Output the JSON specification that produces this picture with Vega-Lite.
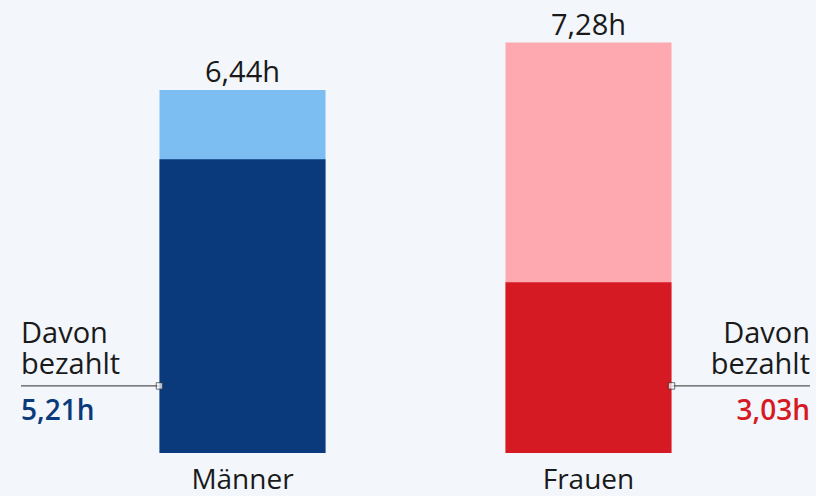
{
  "$schema": "https://vega.github.io/schema/vega-lite/v6.json",
  "width": 789,
  "height": 451,
  "autosize": {"type": "none"},
  "padding": {"left": 21, "right": 6, "top": 2, "bottom": 43},
  "background": "#f3f6fa",
  "config": {
    "view": {"stroke": null},
    "font": "Open Sans",
    "text": {"font": "Open Sans"}
  },
  "data": {
    "values": [
      {"g": "Männer", "gesamt": 6.44, "bezahlt": 5.21},
      {"g": "Frauen", "gesamt": 7.28, "bezahlt": 3.03}
    ]
  },
  "transform": [
    {"calculate": "replace(format(datum.gesamt,'.2f'),'.',',') + 'h'", "as": "gesamtLabel"},
    {"calculate": "replace(format(datum.bezahlt,'.2f'),'.',',') + 'h'", "as": "bezahltLabel"}
  ],
  "encoding": {
    "x": {
      "field": "g",
      "type": "nominal",
      "sort": ["Männer", "Frauen"],
      "scale": {"paddingInner": 0.5202, "paddingOuter": 0.4003},
      "axis": {
        "title": null,
        "domain": false,
        "ticks": false,
        "labelAngle": 0,
        "labelFontSize": 28,
        "labelColor": "#1a1a1a",
        "labelFont": "Open Sans",
        "labelBaseline": "alphabetic",
        "labelPadding": 35
      }
    }
  },
  "layer": [
    {
      "mark": {"type": "bar"},
      "encoding": {
        "y": {"field": "gesamt", "type": "quantitative", "scale": {"domain": [0, 8], "nice": false}, "axis": null},
        "color": {"field": "g", "type": "nominal", "scale": {"domain": ["Männer", "Frauen"], "range": ["#7dbef2", "#fea8b0"]}, "legend": null}
      }
    },
    {
      "mark": {"type": "bar"},
      "encoding": {
        "y": {"field": "bezahlt", "type": "quantitative"},
        "color": {"field": "g", "type": "nominal", "scale": {"domain": ["Männer", "Frauen"], "range": ["#0a397c", "#d61a23"]}, "legend": null}
      }
    },
    {
      "mark": {"type": "text", "fontSize": 29, "baseline": "alphabetic", "dy": -8, "color": "#1a1a1a"},
      "encoding": {
        "y": {"field": "gesamt", "type": "quantitative"},
        "text": {"field": "gesamtLabel"}
      }
    },
    {
      "transform": [{"filter": "datum.g === 'Männer'"}],
      "layer": [
        {
          "mark": {"type": "rule", "color": "#555555", "strokeWidth": 1.2},
          "encoding": {
            "x": {"field": "g", "type": "nominal", "bandPosition": 0},
            "x2": {"value": 0},
            "y": {"datum": 1.19}
          }
        },
        {
          "mark": {"type": "point", "shape": "square", "size": 42, "filled": true, "color": "white", "stroke": "#333333", "strokeWidth": 1},
          "encoding": {
            "x": {"field": "g", "type": "nominal", "bandPosition": 0},
            "y": {"datum": 1.19}
          }
        },
        {
          "mark": {"type": "text", "fontSize": 29, "align": "left", "baseline": "alphabetic", "dy": -43, "lineHeight": 31, "color": "#1a1a1a", "text": ["Davon", "bezahlt"]},
          "encoding": {
            "x": {"value": 0},
            "y": {"datum": 1.19}
          }
        },
        {
          "mark": {"type": "text", "fontSize": 28, "fontWeight": 600, "align": "left", "baseline": "alphabetic", "dy": 34, "color": "#0a397c"},
          "encoding": {
            "x": {"value": 0},
            "y": {"datum": 1.19},
            "text": {"field": "bezahltLabel"}
          }
        }
      ]
    },
    {
      "transform": [{"filter": "datum.g === 'Frauen'"}],
      "layer": [
        {
          "mark": {"type": "rule", "color": "#555555", "strokeWidth": 1.2},
          "encoding": {
            "x": {"field": "g", "type": "nominal", "bandPosition": 1},
            "x2": {"value": {"expr": "width"}},
            "y": {"datum": 1.19}
          }
        },
        {
          "mark": {"type": "point", "shape": "square", "size": 42, "filled": true, "color": "white", "stroke": "#333333", "strokeWidth": 1},
          "encoding": {
            "x": {"field": "g", "type": "nominal", "bandPosition": 1},
            "y": {"datum": 1.19}
          }
        },
        {
          "mark": {"type": "text", "fontSize": 29, "align": "right", "baseline": "alphabetic", "dy": -43, "lineHeight": 31, "color": "#1a1a1a", "text": ["Davon", "bezahlt"]},
          "encoding": {
            "x": {"value": {"expr": "width"}},
            "y": {"datum": 1.19}
          }
        },
        {
          "mark": {"type": "text", "fontSize": 28, "fontWeight": 600, "align": "right", "baseline": "alphabetic", "dy": 34, "color": "#d61a23"},
          "encoding": {
            "x": {"value": {"expr": "width"}},
            "y": {"datum": 1.19},
            "text": {"field": "bezahltLabel"}
          }
        }
      ]
    }
  ],
  "resolve": {"scale": {"color": "independent"}}
}
